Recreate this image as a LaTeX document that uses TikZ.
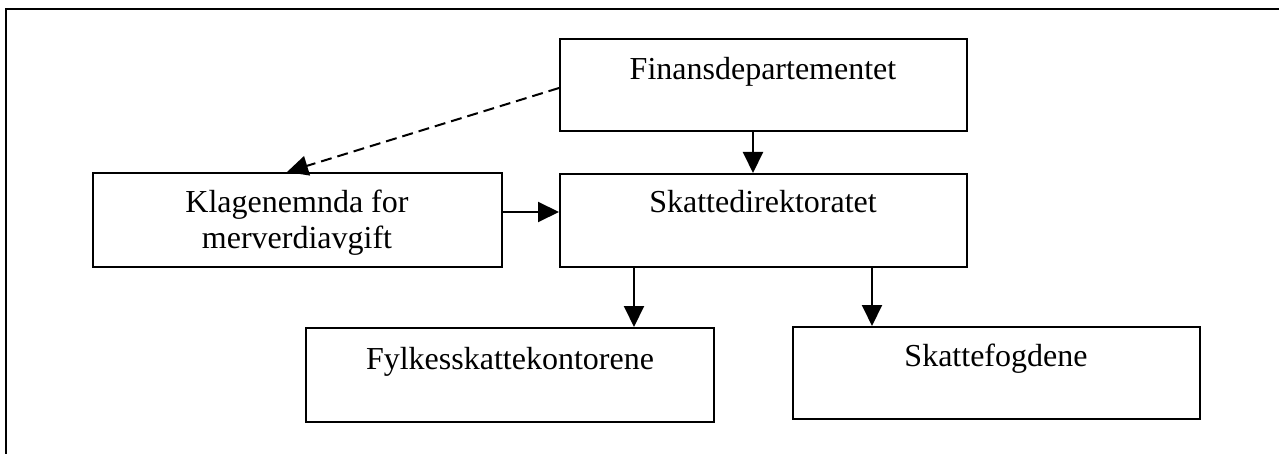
\documentclass[tikz,border=0pt]{standalone}
\usepackage{fontspec}
\setmainfont{Liberation Serif}
\usetikzlibrary{arrows.meta}
\begin{document}
\begin{tikzpicture}[x=1pt,y=-1pt,
  box/.style={draw, line width=2pt, inner sep=0pt, anchor=north west},
  lbl/.style={anchor=base, inner sep=0pt, font=\fontsize{32}{38}\selectfont},
  arr/.style={line width=2pt, -{Triangle[length=21pt,width=20pt]}},
  darr/.style={line width=2pt, dash pattern=on 11pt off 6pt, -{Triangle[length=21pt,width=20pt]}}]
\useasboundingbox (0,0) rectangle (1279,454);
\fill[white] (0,0) rectangle (1279,454);
% outer frame (open at right and bottom)
\draw[line width=2.5pt] (1285,9) -- (6,9) -- (6,460);
% boxes
\node[box, minimum width=407pt, minimum height=92pt] (fin) at (559,38) {};
\node[box, minimum width=407pt, minimum height=93pt] (sd) at (559,173) {};
\node[box, minimum width=409pt, minimum height=94pt] (kl) at (92,172) {};
\node[box, minimum width=408pt, minimum height=94pt] (fy) at (305,327) {};
\node[box, minimum width=407pt, minimum height=92pt] (sf) at (792,326) {};
% texts
\node[lbl] (fint) at (763,80) {Finansdepartementet};
\node[lbl] (sdt) at (763,213) {Skattedirektoratet};
\node[lbl] (klt1) at (297,213) {Klagenemnda for};
\node[lbl] (klt2) at (297,249) {merverdiavgift};
\node[lbl] (fyt) at (510,369) {Fylkesskattekontorene};
\node[lbl] (sft) at (996,366) {Skattefogdene};
% connectors
\draw[arr] ([xshift=-10.5pt]fin.south) -- ([xshift=-10.5pt]sd.north);
\draw[arr] ([yshift=8pt]kl.east) -- ([yshift=8pt]kl.east -| sd.west);
\draw[arr] ([xshift=-129.5pt]sd.south) -- ([xshift=-129.5pt]sd.south |- fy.north);
\draw[arr] ([xshift=108.5pt]sd.south) -- ([xshift=108.5pt]sd.south |- sf.north);
\draw[darr] ([yshift=-3pt]fin.west) -- ([xshift=-10.5pt]kl.north);
\end{tikzpicture}
\end{document}
